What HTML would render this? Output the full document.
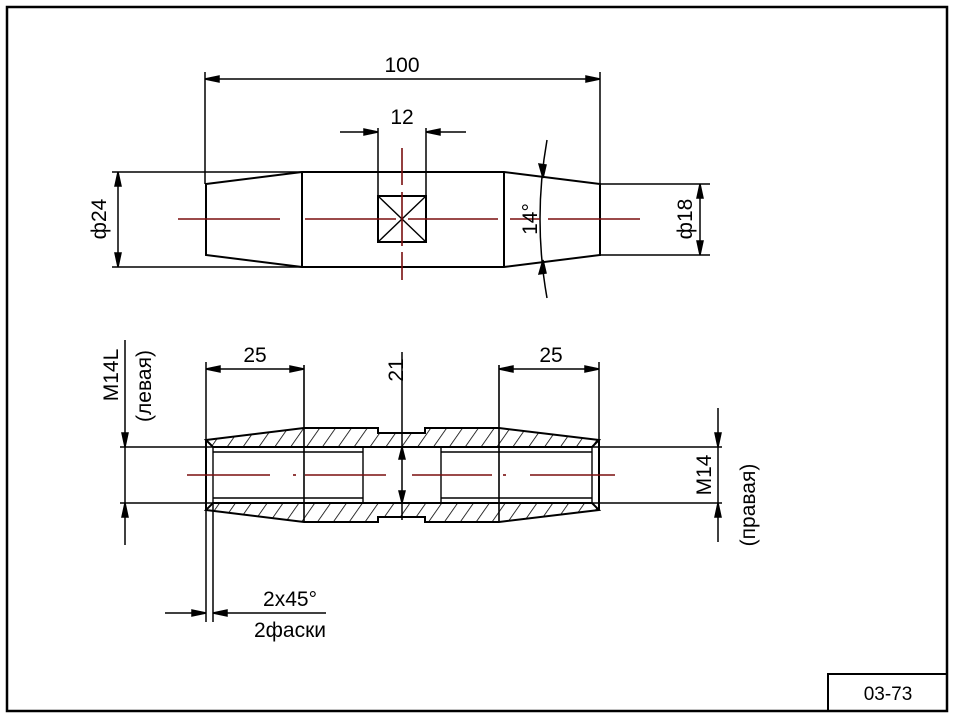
<!DOCTYPE html>
<html><head><meta charset="utf-8"><style>
html,body{margin:0;padding:0;background:#fff;}
svg{display:block;}
text{font-family:"Liberation Sans",sans-serif;font-size:21px;fill:#000;}
</style></head><body>
<svg width="958" height="719" viewBox="0 0 958 719" xmlns="http://www.w3.org/2000/svg">
<defs>
<pattern id="h" patternUnits="userSpaceOnUse" width="13" height="13" patternTransform="rotate(35)">
<line x1="0" y1="0" x2="0" y2="13" stroke="#000" stroke-width="1.6"/>
</pattern>
</defs>
<rect x="7" y="7" width="940" height="704" fill="none" stroke="#000" stroke-width="2.5"/>
<rect x="828" y="674" width="119" height="37" fill="none" stroke="#000" stroke-width="2"/>
<text x="888" y="700" text-anchor="middle" style="font-size:19px">03-73</text>

<g stroke="#000" stroke-width="2" fill="none">
<!-- top view -->
<path d="M206,184 L302,172 L504,172 L600,184 L600,255 L504,267 L302,267 L206,255 Z"/>
<line x1="302" y1="172" x2="302" y2="267"/>
<line x1="504" y1="172" x2="504" y2="267"/>
<line x1="600" y1="184" x2="710" y2="184" stroke-width="1.5"/>
<line x1="600" y1="255" x2="710" y2="255" stroke-width="1.5"/>
<rect x="378" y="196" width="48" height="46"/>
<line x1="378" y1="196" x2="426" y2="242" stroke-width="1.4"/>
<line x1="426" y1="196" x2="378" y2="242" stroke-width="1.4"/>
<g stroke-width="1.5">
<line x1="205" y1="72" x2="205" y2="184"/>
<line x1="600" y1="72" x2="600" y2="184"/>
<line x1="205" y1="79" x2="600" y2="79"/>
<path d="M205,79 l14,-3 v6z M600,79 l-14,-3 v6z" fill="#000"/>
<line x1="378" y1="128" x2="378" y2="196"/>
<line x1="426" y1="128" x2="426" y2="196"/>
<line x1="340" y1="132" x2="378" y2="132"/>
<line x1="426" y1="132" x2="466" y2="132"/>
<path d="M378,132 l-14,-3 v6z M426,132 l14,-3 v6z" fill="#000"/>
<line x1="112" y1="172" x2="302" y2="172"/>
<line x1="112" y1="267" x2="302" y2="267"/>
<line x1="118" y1="172" x2="118" y2="267"/>
<path d="M118,172 l-3,14 h6z M118,267 l-3,-14 h6z" fill="#000"/>
<line x1="700" y1="184" x2="700" y2="255"/>
<path d="M700,184 l-3,14 h6z M700,255 l-3,-14 h6z" fill="#000"/>
<path d="M547,140 Q533,219 547,298"/>
<path d="M543,178 l-4,-14 l7,1z M543,260 l-4,14 l7,-1z" fill="#000"/>
</g>
</g>
<g stroke="#7a0f0f" stroke-width="1.6">
<line x1="178" y1="219" x2="280" y2="219"/>
<line x1="305" y1="219" x2="396" y2="219"/>
<line x1="408" y1="219" x2="498" y2="219"/>
<line x1="510" y1="219" x2="540" y2="219"/>
<line x1="548" y1="219" x2="640" y2="219"/>
<line x1="402" y1="148" x2="402" y2="185"/>
<line x1="402" y1="192" x2="402" y2="246"/>
<line x1="402" y1="252" x2="402" y2="280"/>
</g>
<text x="402" y="72" text-anchor="middle">100</text>
<text x="402" y="124" text-anchor="middle">12</text>
<text transform="translate(106,219) rotate(-90)" text-anchor="middle">ф24</text>
<text transform="translate(692,219) rotate(-90)" text-anchor="middle">ф18</text>
<text transform="translate(537,219) rotate(-90)" text-anchor="middle">14°</text>

<!-- bottom view -->
<path d="M206,440 L304,428 L378,428 L378,433 L425,433 L425,428 L499,428 L599,440 L592,447 L213,447 Z" fill="url(#h)" stroke="#000" stroke-width="2"/>
<path d="M206,510 L304,522 L378,522 L378,517 L425,517 L425,522 L499,522 L599,510 L592,503 L213,503 Z" fill="url(#h)" stroke="#000" stroke-width="2"/>
<g stroke="#000" stroke-width="2" fill="none">
<line x1="120" y1="447" x2="722" y2="447" stroke-width="1.6"/>
<line x1="120" y1="503" x2="722" y2="503" stroke-width="1.6"/>
<line x1="206" y1="440" x2="206" y2="510"/>
<line x1="599" y1="440" x2="599" y2="510"/>
<line x1="213" y1="452" x2="363" y2="452" stroke-width="1.4"/>
<line x1="213" y1="498" x2="363" y2="498" stroke-width="1.4"/>
<line x1="441" y1="452" x2="592" y2="452" stroke-width="1.4"/>
<line x1="441" y1="498" x2="592" y2="498" stroke-width="1.4"/>
<line x1="213" y1="447" x2="213" y2="503" stroke-width="1.4"/>
<line x1="592" y1="447" x2="592" y2="503" stroke-width="1.4"/>
<line x1="363" y1="447" x2="363" y2="503" stroke-width="1.4"/>
<line x1="441" y1="447" x2="441" y2="503" stroke-width="1.4"/>
<line x1="304" y1="365" x2="304" y2="522" stroke-width="1.6"/>
<line x1="499" y1="365" x2="499" y2="522" stroke-width="1.6"/>
<g stroke-width="1.5">
<line x1="206" y1="362" x2="206" y2="440"/>
<line x1="599" y1="362" x2="599" y2="440"/>
<line x1="206" y1="369" x2="304" y2="369"/>
<line x1="499" y1="369" x2="599" y2="369"/>
<path d="M206,369 l14,-3 v6z M304,369 l-14,-3 v6z M499,369 l14,-3 v6z M599,369 l-14,-3 v6z" fill="#000"/>
<line x1="402" y1="352" x2="402" y2="520"/>
<path d="M402,447 l-3,12 h6z M402,503 l-3,-12 h6z" fill="#000"/>
<line x1="125" y1="340" x2="125" y2="545"/>
<path d="M125,447 l-3,-14 h6z M125,503 l-3,14 h6z" fill="#000"/>
<line x1="718" y1="408" x2="718" y2="542"/>
<path d="M718,447 l-3,-14 h6z M718,503 l-3,14 h6z" fill="#000"/>
<line x1="206" y1="510" x2="206" y2="622"/>
<line x1="213" y1="503" x2="213" y2="622"/>
<line x1="165" y1="613" x2="206" y2="613"/>
<line x1="213" y1="613" x2="326" y2="613"/>
<path d="M206,613 l-14,-3 v6z M213,613 l14,-3 v6z" fill="#000"/>
</g>
</g>
<g stroke="#7a0f0f" stroke-width="1.6">
<line x1="187" y1="475" x2="270" y2="475"/>
<line x1="293" y1="475" x2="296" y2="475"/>
<line x1="305" y1="475" x2="386" y2="475"/>
<line x1="412" y1="475" x2="492" y2="475"/>
<line x1="503" y1="475" x2="506" y2="475"/>
<line x1="530" y1="475" x2="615" y2="475"/>
</g>
<text x="255" y="362" text-anchor="middle">25</text>
<text x="551" y="362" text-anchor="middle">25</text>
<text transform="translate(403,370) rotate(-90)" text-anchor="middle">21</text>
<text transform="translate(118,375) rotate(-90)" text-anchor="middle">M14L</text>
<text transform="translate(151,386) rotate(-90)" text-anchor="middle">(левая)</text>
<text transform="translate(711,475) rotate(-90)" text-anchor="middle">M14</text>
<text transform="translate(755,505) rotate(-90)" text-anchor="middle">(правая)</text>
<text x="290" y="606" text-anchor="middle">2x45°</text>
<text x="290" y="637" text-anchor="middle">2фаски</text>
</svg>
</body></html>
